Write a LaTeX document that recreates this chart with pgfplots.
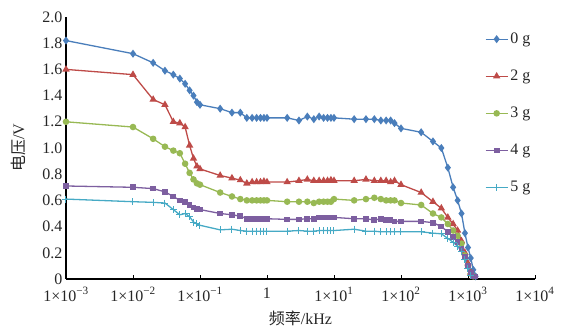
\documentclass[border=0pt]{standalone}
\usepackage{pgfplots}
\pgfplotsset{compat=1.18}
\usepackage{fontspec}
\setmainfont{Liberation Serif}
\newfontfamily\cjk{Noto Sans CJK SC}
\definecolor{cA}{HTML}{4A7EBB}
\definecolor{cB}{HTML}{BE4B48}
\definecolor{cC}{HTML}{98B954}
\definecolor{cD}{HTML}{7D5FA0}
\definecolor{cE}{HTML}{46AAC5}
\begin{document}
\begin{tikzpicture}
\begin{axis}[
  scale only axis, width=469pt, height=262pt,
  xmode=log, xmin=1e-3, xmax=1e4, ymin=0, ymax=2.0,
  axis lines*=left,
  axis line style={-, line width=1.1pt, black},
  xtick={1e-3,1e-2,1e-1,1,1e1,1e2,1e3,1e4},
  xticklabels={1×10\textsuperscript{−3},1×10\textsuperscript{−2},1×10\textsuperscript{−1},1,1×10\textsuperscript{1},1×10\textsuperscript{2},1×10\textsuperscript{3},1×10\textsuperscript{4}},
  xminorticks=false,
  ytick={0,0.2,0.4,0.6,0.8,1.0,1.2,1.4,1.6,1.8,2.0},
  yticklabels={0,0.2,0.4,0.6,0.8,1.0,1.2,1.4,1.6,1.8,2.0},
  ytick style={draw=none},
  xtick style={line width=0.6pt, black},
  tick align=inside, major tick length=4pt,
  ticklabel style={font=\fontsize{16}{19}\selectfont, text=black!85},
  xticklabel style={yshift=-5pt},
  xlabel={{\cjk 频率}/kHz},
  ylabel={{\cjk 电压}/V},
  label style={font=\fontsize{16}{19}\selectfont, text=black!85},
  xlabel style={at={(axis description cs:0.5,-0.149)}, anchor=center},
  ylabel style={at={(axis description cs:-0.1023,0.5)}, anchor=center},
  legend cell align=left,
  legend style={draw=none, fill=none, at={(0.893,0.947)}, anchor=north west,
    font=\fontsize{16}{19}\selectfont, text=black!85, row sep=21pt, inner sep=0pt},
  legend image code/.code={\draw[mark repeat=2,mark phase=2,#1] plot coordinates {(0pt,0pt) (11pt,0pt) (22pt,0pt)};},
  every axis plot/.append style={line width=1.3pt},
]
\addplot[color=cA, mark=diamond*, mark size=3pt, mark options={solid}] coordinates {
(0.001,1.82)(0.01,1.72)(0.02,1.65)(0.03,1.59)(0.04,1.56)(0.05,1.53)(0.06,1.49)(0.07,1.44)(0.08,1.40)(0.09,1.35)(0.1,1.33)
(0.2,1.30)(0.3,1.27)(0.4,1.27)(0.5,1.23)(0.6,1.23)(0.7,1.23)(0.8,1.23)(0.9,1.23)(1,1.23)
(2,1.23)(3,1.21)(4,1.24)(5,1.22)(6,1.24)(7,1.23)(8,1.23)(9,1.23)(10,1.23)
(20,1.22)(30,1.22)(40,1.22)(50,1.21)(60,1.21)(70,1.21)(80,1.19)(100,1.15)
(200,1.12)(300,1.05)(400,1.00)(500,0.85)(600,0.70)(700,0.60)(800,0.50)(900,0.35)(1000,0.24)(1100,0.16)(1200,0.07)(1300,0.02)};
\addlegendentry{0 g}
\addplot[color=cB, mark=triangle*, mark size=3pt, mark options={solid}] coordinates {
(0.001,1.60)(0.01,1.56)(0.02,1.37)(0.03,1.33)(0.04,1.20)(0.05,1.19)(0.06,1.16)(0.07,1.02)(0.08,0.92)(0.09,0.86)(0.1,0.84)
(0.2,0.79)(0.3,0.77)(0.4,0.755)(0.5,0.73)(0.6,0.74)(0.7,0.74)(0.8,0.74)(0.9,0.745)(1,0.74)
(2,0.74)(3,0.75)(4,0.76)(5,0.75)(6,0.75)(7,0.75)(8,0.75)(9,0.755)(10,0.75)
(20,0.75)(30,0.76)(40,0.75)(50,0.75)(60,0.75)(70,0.74)(80,0.75)(100,0.72)
(200,0.66)(300,0.59)(400,0.54)(500,0.47)(600,0.42)(700,0.37)(800,0.29)(900,0.20)(1000,0.12)(1100,0.05)(1200,0.02)};
\addlegendentry{2 g}
\addplot[color=cC, mark=*, mark size=2.6pt, mark options={solid}] coordinates {
(0.001,1.20)(0.01,1.16)(0.02,1.07)(0.03,1.01)(0.04,0.98)(0.05,0.96)(0.06,0.88)(0.07,0.81)(0.08,0.76)(0.09,0.73)(0.1,0.72)
(0.2,0.66)(0.3,0.63)(0.4,0.61)(0.5,0.60)(0.6,0.60)(0.7,0.60)(0.8,0.60)(0.9,0.60)(1,0.60)
(2,0.59)(3,0.59)(4,0.59)(5,0.58)(6,0.59)(7,0.59)(8,0.59)(9,0.59)(10,0.61)
(20,0.60)(30,0.61)(40,0.62)(50,0.61)(60,0.60)(70,0.60)(80,0.60)(100,0.58)
(200,0.565)(300,0.50)(400,0.47)(500,0.42)(600,0.37)(700,0.33)(800,0.27)(900,0.18)(1000,0.10)(1100,0.04)(1200,0.02)};
\addlegendentry{3 g}
\addplot[color=cD, mark=square*, mark size=2.2pt, mark options={solid}] coordinates {
(0.001,0.71)(0.01,0.70)(0.02,0.69)(0.03,0.665)(0.04,0.63)(0.05,0.60)(0.06,0.59)(0.07,0.565)(0.08,0.545)(0.09,0.535)(0.1,0.53)
(0.2,0.50)(0.3,0.49)(0.4,0.48)(0.5,0.46)(0.6,0.46)(0.7,0.46)(0.8,0.46)(0.9,0.46)(1,0.46)
(2,0.455)(3,0.455)(4,0.46)(5,0.46)(6,0.47)(7,0.47)(8,0.47)(9,0.47)(10,0.47)
(20,0.46)(30,0.46)(40,0.45)(50,0.46)(60,0.45)(70,0.45)(80,0.44)(100,0.44)
(200,0.44)(300,0.43)(400,0.40)(500,0.36)(600,0.32)(700,0.28)(800,0.23)(900,0.17)(1000,0.10)(1100,0.05)(1200,0.02)(1300,0.02)};
\addlegendentry{4 g}
\addplot[color=cE, mark=+, mark size=3.5pt, mark options={solid, line width=1pt}] coordinates {
(0.001,0.61)(0.01,0.59)(0.02,0.585)(0.03,0.58)(0.04,0.53)(0.05,0.49)(0.06,0.50)(0.07,0.475)(0.08,0.435)(0.09,0.42)(0.1,0.41)
(0.2,0.375)(0.3,0.38)(0.4,0.37)(0.5,0.365)(0.6,0.365)(0.7,0.365)(0.8,0.365)(0.9,0.365)(1,0.365)
(2,0.365)(3,0.37)(4,0.365)(5,0.365)(6,0.37)(7,0.37)(8,0.37)(9,0.37)(10,0.37)
(20,0.38)(30,0.365)(40,0.365)(50,0.36)(60,0.36)(70,0.36)(80,0.36)(100,0.36)
(200,0.36)(300,0.35)(400,0.345)(500,0.31)(600,0.28)(700,0.25)(800,0.21)(900,0.15)(1000,0.08)(1100,0.03)};
\addlegendentry{5 g}
\end{axis}
\path (current axis.south west) ++(-66pt,-47pt) coordinate (bbA);
\path (current axis.south west) ++(510pt,279pt) coordinate (bbB);
\path (bbA) rectangle (bbB);
\end{tikzpicture}
\end{document}
